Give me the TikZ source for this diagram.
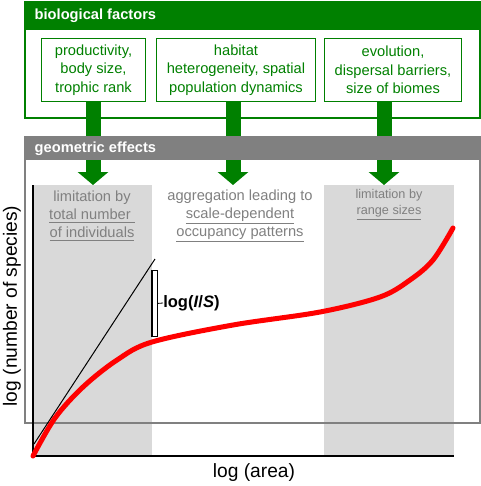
\documentclass[tikz,border=0pt]{standalone}
\usepackage{fontspec}
\setmainfont{Liberation Sans}
\usetikzlibrary{arrows.meta}
\definecolor{gr}{RGB}{0,128,0}
\definecolor{gy}{RGB}{128,128,128}
\definecolor{lg}{RGB}{217,217,217}
\definecolor{rd}{RGB}{255,0,0}
\begin{document}
\begin{tikzpicture}[x=0.75pt,y=-0.75pt,
  factorbox/.style={draw=gr, line width=0.75pt, anchor=north west, inner sep=0pt, align=center, text=gr, font=\fontsize{11}{13.9}\selectfont},
  grtext/.style={text=gy, align=center, font=\fontsize{11}{13.5}\selectfont},
  bigarrow/.style={draw=gr, line width=11.25pt, -{Triangle[length=9.75pt,width=22.5pt]}},
  header/.style={anchor=west, text=white, font=\fontsize{11}{13}\selectfont\bfseries},
  shade/.style={fill=lg, draw=none, anchor=north west, inner sep=0pt}
]
\useasboundingbox (0,0) rectangle (480,486);
% biological factors box
\node[draw=gr, line width=1.5pt, anchor=north west, inner sep=0pt, minimum width=341.25pt, minimum height=87pt] (bio) at (24,1) {};
\fill[gr] (bio.north west) rectangle (479,30);
\node[header] (biot) at (30,16) {biological factors};
\node[factorbox, minimum width=78pt, minimum height=47.25pt] (f1) at (41,38) {productivity,\\body size,\\trophic rank};
\node[factorbox, minimum width=119.25pt, minimum height=47.25pt] (f2) at (156,38) {habitat\\heterogeneity, spatial\\population dynamics};
\node[factorbox, minimum width=102.75pt, minimum height=47.25pt] (f3) at (324,38) {evolution,\\dispersal barriers,\\size of biomes};
% shaded regions
\node[shade, minimum width=89.25pt, minimum height=203.25pt] (s1) at (33,185) {};
\node[shade, minimum width=97.5pt, minimum height=203.25pt] (s2) at (324,185) {};
% arrows
\coordinate (a1) at (93,185);
\coordinate (a2) at (233,185);
\coordinate (a3) at (384,185);
\draw[bigarrow] (f1.south -| a1) -- (a1);
\draw[bigarrow] (f2.south -| a2) -- (a2);
\draw[bigarrow] (f3.south -| a3) -- (a3);
% geometric effects box
\node[draw=gy, line width=1.5pt, anchor=north west, inner sep=0pt, minimum width=341.25pt, minimum height=214.5pt] (geo) at (24,136) {};
\fill[gy] (geo.north west) rectangle (479,160);
\node[header] (geot) at (30,149) {geometric effects};
% texts
\node[grtext] (t1) at (92,216) {limitation by\\\underline{total number }\\\underline{of individuals}};
\node[grtext] (t2) at (240,216) {aggregation leading to\\\underline{scale-dependent}\\\underline{occupancy patterns}};
\node[grtext, font=\fontsize{9.5}{12}\selectfont] (t3) at (389,205) {limitation by\\\underline{range sizes}};
% axes
\coordinate (o) at (33,456);
\coordinate (ytop) at (33,185);
\coordinate (xend) at (454,456);
\draw[line width=1.5pt] (ytop) -- (o) -- (xend);
\node[rotate=90, font=\fontsize{14.4}{16}\selectfont] (ylab) at (12,306) {log (number of species)};
\node[font=\fontsize{14.4}{16}\selectfont] (xlab) at (254,473) {log (area)};
% thin line
\coordinate (l0) at (34,444);
\coordinate (l1) at (155,259);
\draw[line width=0.75pt] (l0) -- (l1);
% bracket
\node[draw, fill=white, line width=0.6pt, anchor=north west, inner sep=0pt, minimum width=3.75pt, minimum height=49.5pt] (br) at (152,270) {};
\draw[line width=1.5pt] (br.north west) -- (br.south west);
\coordinate (tk) at (163,303);
\draw[line width=0.6pt] (br.east) -- (tk);
\node[anchor=west, inner sep=0pt, font=\fontsize{12.4}{14}\selectfont\bfseries] (lis) at (tk) {log(\textit{I}/\textit{S})};
% red curve
\draw[rd, line width=3.75pt, line cap=round] plot[smooth, tension=0.55] coordinates {(33,456) (55,418) (83,387) (117,360) (152,342) (233,325) (320,312) (380,297) (410,280) (433,260) (453,228)};
\end{tikzpicture}
\end{document}
